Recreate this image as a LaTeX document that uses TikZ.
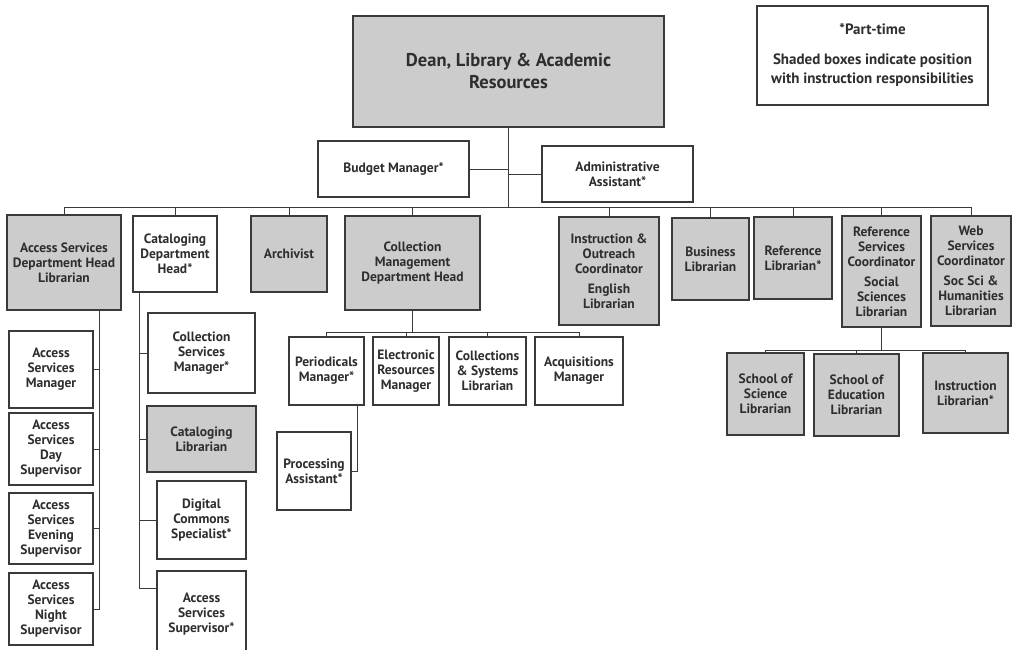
\documentclass[tikz,border=0pt]{standalone}
\usepackage{fontspec}
\setmainfont{PT Sans}

\definecolor{boxgray}{HTML}{CCCCCC}
\definecolor{linegray}{HTML}{3A3A3A}
\definecolor{textgray}{HTML}{2E2E2E}

\tikzset{
  post/.style={draw=linegray, line width=1.1pt, fill=white, text=textgray,
    font=\bfseries\fontsize{13.5}{15}\selectfont, align=center, inner sep=0pt},
  shaded/.style={post, fill=boxgray},
  link/.style={draw=linegray, line width=0.8pt}
}

\begin{document}
\begin{tikzpicture}[x=1pt, y=-1pt]
    \useasboundingbox (0,0) rectangle (1012,649);

    % 凡例
    \node[post, minimum width=231, minimum height=99, font=\bfseries\fontsize{15}{19}\selectfont] (legend) at (872.5,55.5)
        {*Part-time\\[11pt]Shaded boxes indicate position\\with instruction responsibilities};

    % 学部長とスタッフ
    \node[shaded, minimum width=311, minimum height=111, font=\bfseries\fontsize{18.5}{22}\selectfont] (dean) at (508.5,71.5)
        {Dean, Library \& Academic\\Resources};
    \node[post, minimum width=151, minimum height=56] (budget) at (393.5,169) {Budget Manager*};
    \node[post, minimum width=151, minimum height=56] (admin) at (617.5,174) {Administrative\\Assistant*};

    % 二段目 (部門長など)
    \node[shaded, minimum width=114, minimum height=95] (asdh) at (64,262.5) {Access Services\\Department Head\\Librarian};
    \node[post, minimum width=84, minimum height=76] (catdh) at (175,254) {Cataloging\\Department\\Head*};
    \node[shaded, minimum width=76, minimum height=76] (arch) at (289,254) {Archivist};
    \node[shaded, minimum width=135, minimum height=94] (cmdh) at (412.5,263) {Collection\\Management\\Department Head};
    \node[shaded, minimum width=100, minimum height=108] (instr) at (609,271)
        {Instruction \&\\Outreach\\Coordinator\\[5pt]English\\Librarian};
    \node[shaded, minimum width=77, minimum height=82] (bizlib) at (710.5,259) {Business\\Librarian};
    \node[shaded, minimum width=78, minimum height=82] (reflib) at (793,258) {Reference\\Librarian*};
    \node[shaded, minimum width=79, minimum height=111] (rsc) at (881.5,271.5)
        {Reference\\Services\\Coordinator\\[5pt]Social\\Sciences\\Librarian};
    \node[shaded, minimum width=80, minimum height=110] (web) at (971,271)
        {Web\\Services\\Coordinator\\[5pt]Soc Sci \&\\Humanities\\Librarian};

    % Access Services の下
    \node[post, minimum width=84, minimum height=77] (asm) at (51,369.5) {Access\\Services\\Manager};
    \node[post, minimum width=84, minimum height=72] (asday) at (51,449) {Access\\Services\\Day\\Supervisor};
    \node[post, minimum width=84, minimum height=71] (aseve) at (51,528.5) {Access\\Services\\Evening\\Supervisor};
    \node[post, minimum width=84, minimum height=72] (asnight) at (51,609) {Access\\Services\\Night\\Supervisor};

    % Cataloging の下
    \node[post, minimum width=107, minimum height=80] (csm) at (201.5,353) {Collection\\Services\\Manager*};
    \node[shaded, minimum width=109, minimum height=66] (catlib) at (201.5,439) {Cataloging\\Librarian};
    \node[post, minimum width=89, minimum height=78] (dcs) at (201.5,520) {Digital\\Commons\\Specialist*};
    \node[post, minimum width=89, minimum height=86] (ass) at (201.5,614) {Access\\Services\\Supervisor*};

    % Collection Management の下
    \node[post, minimum width=75, minimum height=68] (perim) at (326.5,371) {Periodicals\\Manager*};
    \node[post, minimum width=66, minimum height=68] (erm) at (406,371) {Electronic\\Resources\\Manager};
    \node[post, minimum width=77, minimum height=68] (csl) at (487.5,371) {Collections\\\& Systems\\Librarian};
    \node[post, minimum width=88, minimum height=68] (acq) at (579,371) {Acquisitions\\Manager};
    \node[post, minimum width=74, minimum height=78] (proc) at (314,471) {Processing\\Assistant*};

    % Reference Services の下
    \node[shaded, minimum width=77, minimum height=82] (sos) at (765.5,394) {School of\\Science\\Librarian};
    \node[shaded, minimum width=85, minimum height=82] (soe) at (856.5,395) {School of\\Education\\Librarian};
    \node[shaded, minimum width=85, minimum height=80] (inlib) at (965.5,393) {Instruction\\Librarian*};

    % 学部長からの線
    \coordinate (bus) at (dean.south |- 0,207);
    \draw[link] (dean.south) -- (bus);
    \draw[link] (budget.east) -- (budget.east -| dean.south);
    \draw[link] (admin.west) -- (admin.west -| dean.south);
    \draw[link] (bus -| asdh.north) -- (bus -| web.north);
    \draw[link] (bus -| asdh.north) -- (asdh.north);
    \draw[link] (bus -| catdh.north) -- (catdh.north);
    \draw[link] (bus -| arch.north) -- (arch.north);
    \draw[link] (bus -| cmdh.north) -- (cmdh.north);
    \draw[link] (bus -| instr.north) -- (instr.north);
    \draw[link] (bus -| bizlib.north) -- (bizlib.north);
    \draw[link] (bus -| reflib.north) -- (reflib.north);
    \draw[link] (bus -| rsc.north) -- (rsc.north);
    \draw[link] (bus -| web.north) -- (web.north);

    % Access Services の縦線
    \coordinate (asspine) at ([xshift=-22pt]asdh.south east);
    \draw[link] (asspine) |- (asnight.east);
    \draw[link] (asm.east) -- (asm.east -| asspine);
    \draw[link] (asday.east) -- (asday.east -| asspine);
    \draw[link] (aseve.east) -- (aseve.east -| asspine);

    % Cataloging の縦線
    \coordinate (catspine) at ([xshift=7pt]catdh.south west);
    \coordinate (assin) at ([yshift=26pt]ass.west);
    \draw[link] (catspine) |- (assin);
    \draw[link] (csm.west) -- (csm.west -| catspine);
    \draw[link] (catlib.west) -- (catlib.west -| catspine);
    \draw[link] (dcs.west) -- (dcs.west -| catspine);

    % Collection Management の下の線
    \coordinate (cmbus) at (cmdh.south |- 0,332);
    \draw[link] (cmdh.south) -- (cmbus);
    \draw[link] (cmbus -| perim.north) -- (cmbus -| acq.north);
    \draw[link] (cmbus -| perim.north) -- (perim.north);
    \draw[link] (cmbus -| erm.north) -- (erm.north);
    \draw[link] (cmbus -| csl.north) -- (csl.north);
    \draw[link] (cmbus -| acq.north) -- (acq.north);
    \draw[link] ([xshift=-7pt]perim.south east) |- (proc.east);

    % Reference Services の下の線
    \coordinate (rsbus) at (rsc.south |- 0,350);
    \draw[link] (rsc.south) -- (rsbus);
    \draw[link] (rsbus -| sos.north) -- (rsbus -| inlib.north);
    \draw[link] (rsbus -| sos.north) -- (sos.north);
    \draw[link] (rsbus -| soe.north) -- (soe.north);
    \draw[link] (rsbus -| inlib.north) -- (inlib.north);
\end{tikzpicture}
\end{document}
